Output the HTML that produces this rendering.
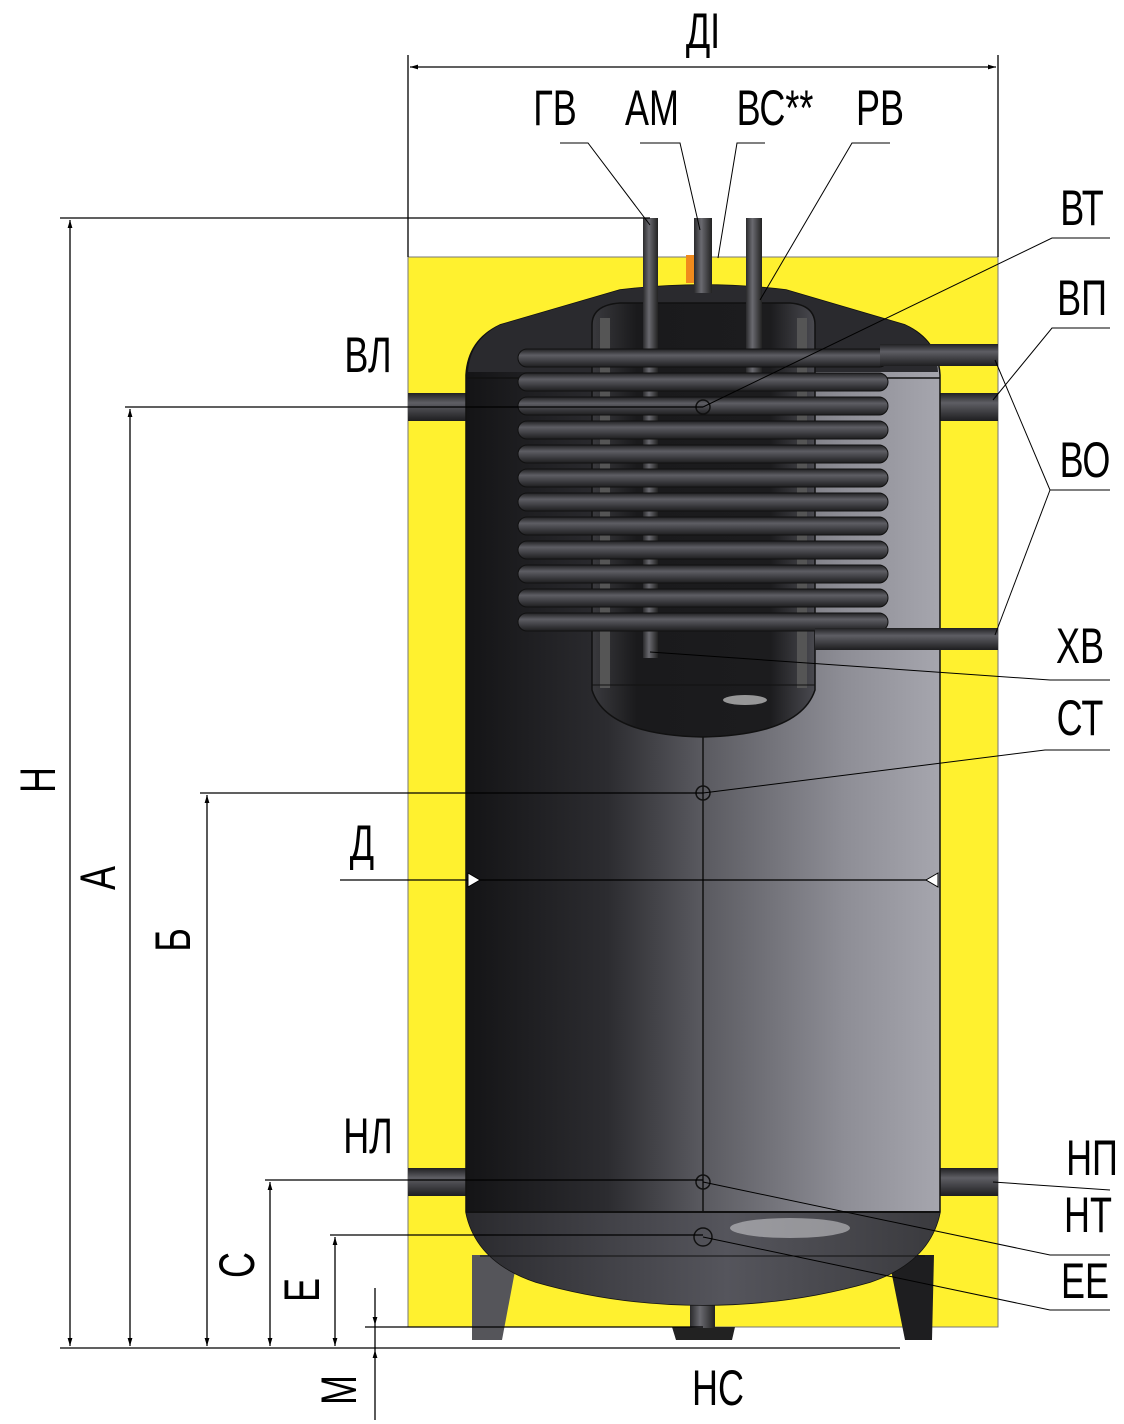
<!DOCTYPE html>
<html><head><meta charset="utf-8"><style>
html,body{margin:0;padding:0;background:#fff}
svg{display:block}
text{font-family:"Liberation Sans",sans-serif;font-size:50px;fill:#000}
</style></head><body>
<svg width="1124" height="1424" viewBox="0 0 1124 1424" xmlns="http://www.w3.org/2000/svg">
<defs>
<linearGradient id="body" x1="0" x2="1" y1="0" y2="0">
<stop offset="0" stop-color="#141416"/><stop offset="0.3" stop-color="#2c2c30"/><stop offset="0.5" stop-color="#5a5a60"/><stop offset="0.8" stop-color="#8e8e96"/><stop offset="1" stop-color="#a6a6ae"/>
</linearGradient>
<linearGradient id="inner" x1="0" x2="1"><stop offset="0" stop-color="#3a3a3e"/><stop offset="0.2" stop-color="#1a1a1c"/><stop offset="0.8" stop-color="#1c1c1e"/><stop offset="1" stop-color="#4a4a50"/></linearGradient>
<linearGradient id="tube" x1="0" x2="0" y1="0" y2="1"><stop offset="0" stop-color="#202022"/><stop offset="0.35" stop-color="#5e5e64"/><stop offset="1" stop-color="#1e1e20"/></linearGradient>
<linearGradient id="vtube" x1="0" x2="1"><stop offset="0" stop-color="#2a2a2c"/><stop offset="0.4" stop-color="#6a6a70"/><stop offset="1" stop-color="#222"/></linearGradient>
<linearGradient id="bot" x1="0" x2="1"><stop offset="0" stop-color="#2a2a2e"/><stop offset="0.55" stop-color="#55555c"/><stop offset="1" stop-color="#3a3a3e"/></linearGradient>
<marker id="a" viewBox="0 0 10 10" refX="10" refY="5" markerWidth="14" markerHeight="8" orient="auto-start-reverse" markerUnits="userSpaceOnUse"><path d="M0,2 L10,5 L0,8 z" fill="#000"/></marker>
</defs>

<rect x="408" y="257" width="590" height="1070" fill="#fff12f" stroke="#777" stroke-width="1"/>

<polygon points="472,1255 518,1255 502,1340 472,1340" fill="#55555a"/>
<polygon points="888,1255 934,1255 932,1340 905,1340" fill="#1e1e20"/>
<polygon points="672,1327 735,1327 732,1340 676,1340" fill="#222"/>
<rect x="690" y="1298" width="25" height="30" fill="url(#vtube)"/>

<rect x="408" y="393" width="60" height="28" fill="url(#tube)"/>
<rect x="938" y="393" width="60" height="28" fill="url(#tube)"/>
<rect x="408" y="1168" width="60" height="28" fill="url(#tube)"/>
<rect x="938" y="1168" width="60" height="28" fill="url(#tube)"/>

<path d="M466,375 Q468,340 500,325 L620,290 Q703,280 786,290 L905,325 Q938,340 940,375 L940,1212 Q930,1262 870,1282 Q790,1305 703,1305 Q616,1305 536,1282 Q476,1262 466,1212 Z" fill="url(#body)" stroke="#111" stroke-width="1.5"/>
<path d="M466,1212 Q476,1262 536,1282 Q616,1305 703,1305 Q790,1305 870,1282 Q930,1262 940,1212 Z" fill="url(#bot)"/>
<ellipse cx="790" cy="1228" rx="60" ry="10" fill="#c8c8cc" opacity="0.6"/>
<line x1="466" y1="1212" x2="940" y2="1212" stroke="#111" stroke-width="2"/>
<line x1="480" y1="1256" x2="925" y2="1256" stroke="#111" stroke-width="1"/>
<path d="M468,372 Q470,340 500,325 L620,290 Q703,280 786,290 L905,325 Q936,340 938,372 Z" fill="#2a2a2e"/>
<line x1="466" y1="378" x2="940" y2="378" stroke="#111" stroke-width="1.5"/>

<path d="M592,325 Q592,305 620,303 L790,303 Q815,305 815,325 L815,690 Q800,735 703,737 Q606,735 592,690 Z" fill="url(#inner)" stroke="#111" stroke-width="1.5"/>
<rect x="600" y="318" width="10" height="370" fill="#555"/>
<rect x="797" y="318" width="10" height="370" fill="#555"/>
<line x1="592" y1="685" x2="815" y2="685" stroke="#111"/>
<ellipse cx="745" cy="700" rx="22" ry="5" fill="#ccc" opacity="0.7"/>

<rect x="643" y="218" width="15" height="440" fill="url(#vtube)"/>
<rect x="694" y="218" width="18" height="75" fill="url(#vtube)"/>
<rect x="746" y="218" width="16" height="165" fill="url(#vtube)"/>
<rect x="686" y="255" width="8" height="28" fill="#f08a1c"/>

<g fill="url(#tube)" stroke="#111" stroke-width="1">
<rect x="518" y="349" width="370" height="18" rx="9"/>
<rect x="518" y="373" width="370" height="18" rx="9"/>
<rect x="518" y="397" width="370" height="18" rx="9"/>
<rect x="518" y="421" width="370" height="18" rx="9"/>
<rect x="518" y="445" width="370" height="18" rx="9"/>
<rect x="518" y="469" width="370" height="18" rx="9"/>
<rect x="518" y="493" width="370" height="18" rx="9"/>
<rect x="518" y="517" width="370" height="18" rx="9"/>
<rect x="518" y="541" width="370" height="18" rx="9"/>
<rect x="518" y="565" width="370" height="18" rx="9"/>
<rect x="518" y="589" width="370" height="18" rx="9"/>
<rect x="518" y="613" width="370" height="18" rx="9"/>
</g>
<rect x="880" y="344" width="118" height="22" fill="url(#tube)"/>
<rect x="815" y="628" width="183" height="22" fill="url(#tube)"/>

<line x1="703" y1="737" x2="703" y2="1212" stroke="#111" stroke-width="1.5"/>
<g fill="none" stroke="#111" stroke-width="1.5">
<circle cx="703" cy="407" r="7"/><circle cx="703" cy="793" r="7"/><circle cx="703" cy="1182" r="7"/><circle cx="703" cy="1237" r="9"/>
</g>

<g stroke="#000" stroke-width="1.3" fill="none">
<line x1="408" y1="55" x2="408" y2="257"/><line x1="998" y1="55" x2="998" y2="257"/>
<line x1="410" y1="67" x2="996" y2="67" marker-start="url(#a)" marker-end="url(#a)"/>
<line x1="60" y1="218" x2="650" y2="218"/>
<line x1="125" y1="407" x2="703" y2="407"/>
<line x1="200" y1="793" x2="703" y2="793"/>
<line x1="340" y1="880" x2="938" y2="880"/>
<line x1="265" y1="1180" x2="703" y2="1180"/>
<line x1="330" y1="1235" x2="703" y2="1235"/>
<line x1="365" y1="1327" x2="703" y2="1327"/>
<line x1="60" y1="1348" x2="900" y2="1348"/>
<line x1="70" y1="220" x2="70" y2="1346" marker-start="url(#a)" marker-end="url(#a)"/>
<line x1="130" y1="409" x2="130" y2="1346" marker-start="url(#a)" marker-end="url(#a)"/>
<line x1="207" y1="795" x2="207" y2="1346" marker-start="url(#a)" marker-end="url(#a)"/>
<line x1="270" y1="1182" x2="270" y2="1346" marker-start="url(#a)" marker-end="url(#a)"/>
<line x1="335" y1="1237" x2="335" y2="1346" marker-start="url(#a)" marker-end="url(#a)"/>
<line x1="375" y1="1288" x2="375" y2="1325" marker-end="url(#a)"/>
<line x1="375" y1="1420" x2="375" y2="1350" marker-end="url(#a)"/>
<line x1="375" y1="1325" x2="375" y2="1350"/>
</g>
<path d="M468,873 L480,880 L468,887 Z M938,873 L926,880 L938,887 Z" fill="#fff" stroke="#000"/>

<g stroke="#000" stroke-width="1" fill="none">
<polyline points="560,143 588,143 650,225"/>
<polyline points="640,143 680,143 700,230"/>
<polyline points="765,143 737,143 718,258"/>
<polyline points="890,143 852,143 760,300"/>
<polyline points="1110,238 1052,238 703,407"/>
<polyline points="1110,328 1052,328 993,400"/>
<polyline points="995,360 1050,490 1110,490"/>
<line x1="1050" y1="490" x2="995" y2="635"/>
<polyline points="650,652 1050,680 1110,680"/>
<polyline points="703,793 1045,750 1110,750"/>
<polyline points="993,1182 1110,1190"/>
<polyline points="703,1182 1050,1255 1110,1255"/>
<polyline points="703,1237 1050,1310 1110,1310"/>
</g>

<g text-anchor="middle">
<text transform="translate(703,48) scale(0.72,1)">ДІ</text>
<text transform="translate(555,125) scale(0.72,1)">ГВ</text>
<text transform="translate(652,125) scale(0.72,1)">АМ</text>
<text transform="translate(775,125) scale(0.72,1)">ВС**</text>
<text transform="translate(880,125) scale(0.72,1)">РВ</text>
<text transform="translate(1082,225) scale(0.72,1)">ВТ</text>
<text transform="translate(1082,315) scale(0.72,1)">ВП</text>
<text transform="translate(1085,477) scale(0.72,1)">ВО</text>
<text transform="translate(1080,663) scale(0.72,1)">ХВ</text>
<text transform="translate(1080,735) scale(0.72,1)">СТ</text>
<text transform="translate(1092,1175) scale(0.72,1)">НП</text>
<text transform="translate(1088,1232) scale(0.72,1)">НТ</text>
<text transform="translate(1085,1298) scale(0.72,1)">ЕЕ</text>
<text transform="translate(718,1405) scale(0.72,1)">НС</text>
<text transform="translate(368,372) scale(0.72,1)">ВЛ</text>
<text transform="translate(362,860) scale(0.72,1)">Д</text>
<text transform="translate(368,1153) scale(0.72,1)">НЛ</text>
<text transform="translate(55,780) rotate(-90) scale(0.72,1)">Н</text>
<text transform="translate(115,878) rotate(-90) scale(0.72,1)">А</text>
<text transform="translate(190,940) rotate(-90) scale(0.72,1)">Б</text>
<text transform="translate(254,1265) rotate(-90) scale(0.72,1)">С</text>
<text transform="translate(319,1290) rotate(-90) scale(0.72,1)">Е</text>
<text transform="translate(356,1390) rotate(-90) scale(0.72,1)">М</text>
</g>
</svg>
</body></html>
